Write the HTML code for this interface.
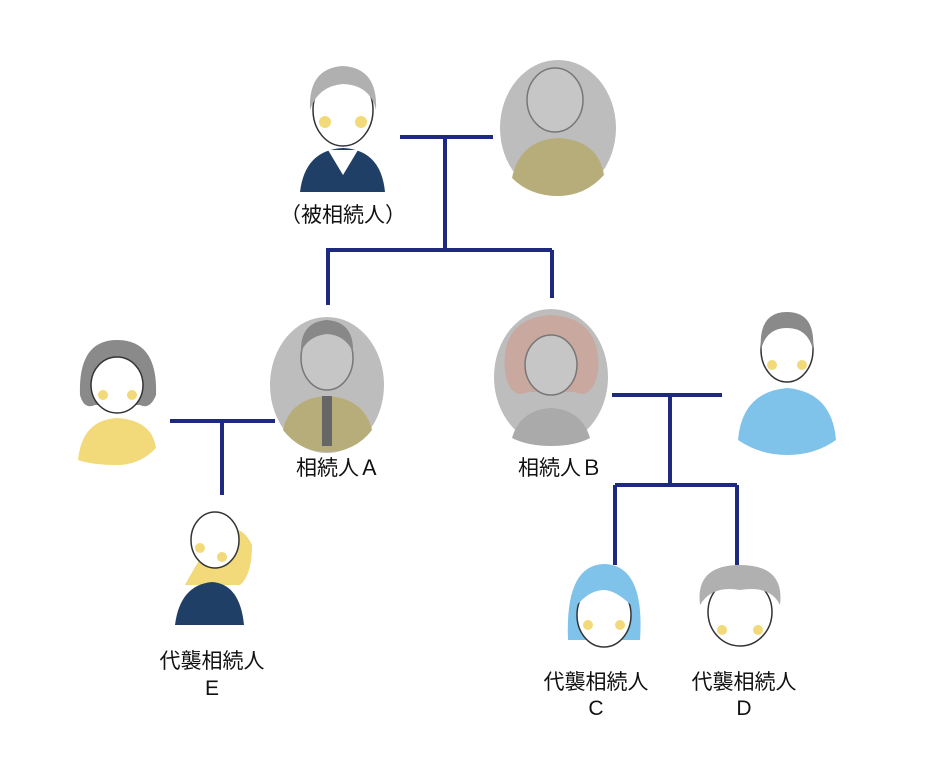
<!DOCTYPE html>
<html><head><meta charset="utf-8"><style>
html,body{margin:0;padding:0;background:#fff;}
svg{display:block;}
text{font-family:"Liberation Sans","Noto Sans CJK JP",sans-serif;font-size:21px;fill:#111;}
</style></head><body>
<svg width="944" height="764" viewBox="0 0 944 764" xmlns="http://www.w3.org/2000/svg">
<g stroke="#1e2a80" stroke-width="4" fill="none">
<path d="M400 137H493M445 137V250M326 250H552M328 250V305M552 250V298"/>
<path d="M170 421H275M222 421V495"/>
<path d="M612 395H722M670 395V485M615 485H737M615 485V565M737 485V565"/>
</g>
<g>
<path d="M300 192 Q305 150 343 148 Q381 150 385 192 Z" fill="#1f3f66"/>
<path d="M328 150 L343 175 L358 150 Z" fill="#fff"/>
<ellipse cx="343" cy="110" rx="30" ry="36" fill="#fff" stroke="#333" stroke-width="1.5"/>
<path d="M310 110 Q308 68 343 66 Q378 68 376 110 Q370 85 343 84 Q318 86 310 110Z" fill="#b0b0b0"/>
<circle cx="325" cy="122" r="6" fill="#f2d97a"/><circle cx="361" cy="122" r="6" fill="#f2d97a"/>
</g>
<ellipse cx="558" cy="128" rx="58" ry="68" fill="#bdbdbd"/>
<path d="M512 178 Q520 140 558 138 Q598 140 604 175 Q585 196 558 196 Q530 196 512 178Z" fill="#b7ad7a"/>
<ellipse cx="555" cy="100" rx="28" ry="32" fill="#c6c6c6" stroke="#777" stroke-width="1.5"/>
<ellipse cx="327" cy="385" rx="57" ry="68" fill="#bdbdbd"/>
<path d="M283 430 Q290 398 327 396 Q364 398 372 430 Q355 452 327 452 Q300 452 283 430Z" fill="#b7ad7a"/>
<rect x="322" y="396" width="10" height="50" fill="#666"/>
<ellipse cx="327" cy="358" rx="26" ry="32" fill="#c6c6c6" stroke="#777" stroke-width="1.5"/>
<path d="M301 352 Q300 322 327 320 Q354 322 353 352 Q345 335 327 334 Q308 336 301 352Z" fill="#888"/>
<ellipse cx="551" cy="377" rx="57" ry="68" fill="#bdbdbd"/>
<path d="M505 372 Q500 318 551 315 Q602 318 598 372 Q592 400 575 392 L528 392 Q510 400 505 372Z" fill="#c9a8a0"/>
<ellipse cx="551" cy="365" rx="26" ry="30" fill="#c6c6c6" stroke="#777" stroke-width="1.5"/>
<path d="M512 438 Q520 410 551 408 Q582 410 590 438 Q575 446 551 446 Q528 446 512 438Z" fill="#aaa"/>
<path d="M738 440 Q742 392 787 388 Q832 392 836 440 Q815 455 787 455 Q760 455 738 440Z" fill="#7fc2ea"/>
<ellipse cx="787" cy="350" rx="26" ry="32" fill="#fff" stroke="#333" stroke-width="1.5"/>
<path d="M761 350 Q758 312 787 312 Q816 312 813 350 Q808 328 787 328 Q766 328 761 350Z" fill="#8a8a8a"/>
<circle cx="772" cy="365" r="5" fill="#f2d97a"/><circle cx="802" cy="365" r="5" fill="#f2d97a"/>
<path d="M78 460 Q82 420 117 418 Q152 420 156 448 Q140 465 117 465 Q92 465 78 460Z" fill="#f2d97a"/>
<path d="M80 395 Q78 340 117 340 Q158 340 156 395 Q150 410 140 405 L95 405 Q84 410 80 395Z" fill="#8a8a8a"/>
<ellipse cx="117" cy="385" rx="26" ry="28" fill="#fff" stroke="#333" stroke-width="1.5"/>
<circle cx="103" cy="395" r="5" fill="#f2d97a"/><circle cx="132" cy="395" r="5" fill="#f2d97a"/>
<path d="M185 585 Q230 500 252 545 Q252 575 240 585Z" fill="#f2d97a"/>
<path d="M175 625 Q180 585 212 582 Q240 584 244 625 Z" fill="#1f3f66"/>
<ellipse cx="215" cy="540" rx="24" ry="28" fill="#fff" stroke="#333" stroke-width="1.5"/>
<circle cx="200" cy="548" r="5" fill="#f2d97a"/><circle cx="222" cy="557" r="5" fill="#f2d97a"/>
<path d="M568 640 Q565 565 604 564 Q645 565 640 640 Z" fill="#7fc2ea"/>
<ellipse cx="604" cy="615" rx="27" ry="32" fill="#fff" stroke="#333" stroke-width="1.5"/>
<path d="M577 605 Q580 575 604 574 Q628 575 631 605 Q615 590 604 590 Q590 590 577 605Z" fill="#7fc2ea"/>
<circle cx="588" cy="625" r="5" fill="#f2d97a"/><circle cx="620" cy="625" r="5" fill="#f2d97a"/>
<ellipse cx="740" cy="612" rx="32" ry="34" fill="#fff" stroke="#333" stroke-width="1.5"/>
<path d="M700 605 Q695 565 740 565 Q785 565 780 605 Q770 585 740 590 Q712 585 700 605Z" fill="#b0b0b0"/>
<circle cx="722" cy="630" r="5" fill="#f2d97a"/><circle cx="758" cy="630" r="5" fill="#f2d97a"/>
<text x="343" y="222" text-anchor="middle">（被相続人）</text>
<text x="338" y="475" text-anchor="middle">相続人Ａ</text>
<text x="560" y="475" text-anchor="middle">相続人Ｂ</text>
<text x="212" y="668" text-anchor="middle">代襲相続人</text>
<text x="212" y="695" text-anchor="middle">E</text>
<text x="596" y="689" text-anchor="middle">代襲相続人</text>
<text x="596" y="715" text-anchor="middle">C</text>
<text x="744" y="689" text-anchor="middle">代襲相続人</text>
<text x="744" y="715" text-anchor="middle">D</text>
</svg>
</body></html>
